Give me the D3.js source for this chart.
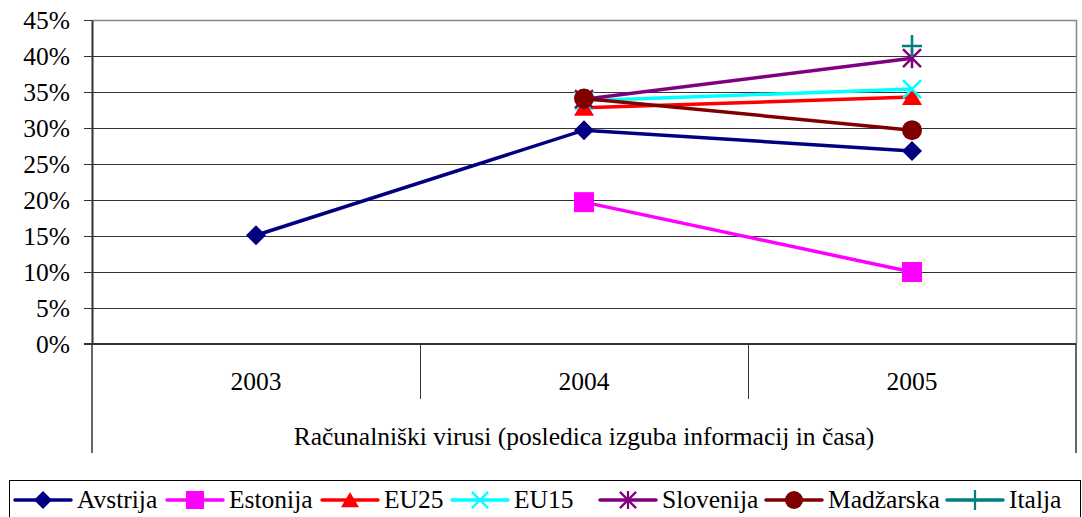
<html>
<head>
<meta charset="utf-8">
<style>
  body { margin: 0; background: #fff; }
  svg { display: block; }
  text { font-family: "Liberation Serif", "Times New Roman", serif; fill: #000; }
</style>
</head>
<body>
<script src="https://cdn.jsdelivr.net/npm/d3@7"></script>
<script>
// data
var years = ["2003", "2004", "2005"];
var yTicks = [0, 0.05, 0.10, 0.15, 0.20, 0.25, 0.30, 0.35, 0.40, 0.45];
var seriesNames = ["Avstrija", "Estonija", "EU25", "EU15", "Slovenija", "Madžarska", "Italja"];
var avstrija = [0.151, 0.297, 0.268];
var estonija = [null, 0.197, 0.100];
var eu25 = [null, 0.328, 0.343];
var eu15 = [null, 0.338, 0.354];
var slovenija = [null, 0.340, 0.397];
var madzarska = [null, 0.341, 0.297];
var italja = [null, null, 0.414];
var seriesColors = ["#000080", "#ff00ff", "#ff0000", "#00ffff", "#800080", "#800000", "#008080"];
var seriesMarkers = ["diamond", "square", "triangle", "x", "star", "circle", "plus"];
var axisTitle = "Računalniški virusi (posledica izguba informacij in časa)";

var allValues = [avstrija, estonija, eu25, eu15, slovenija, madzarska, italja];
var series = seriesNames.map(function(n, i) {
  return { name: n, color: seriesColors[i], marker: seriesMarkers[i],
    values: years.map(function(y, j) { return { year: y, v: allValues[i][j] }; }) };
});

var W = 1082, H = 517;
var plotL = 92, plotR = 1076, plotT = 20, plotB = 344;
var fontSize = "25.5px";

var svg = d3.select("body").append("svg").attr("width", W).attr("height", H);

var x = d3.scaleBand().domain(years).range([plotL, plotR]);
var y = d3.scaleLinear().domain([0, 0.45]).range([plotB, plotT]);

// gridlines
svg.append("g").selectAll("line").data(yTicks.slice(1, -1)).enter().append("line")
  .attr("x1", plotL).attr("x2", plotR)
  .attr("y1", function(d) { return Math.round(y(d)) + 0.5; })
  .attr("y2", function(d) { return Math.round(y(d)) + 0.5; })
  .attr("stroke", "#333").attr("stroke-width", 1);

// top and right border
svg.append("path")
  .attr("d", "M" + plotL + "," + (plotT + 0.5) + "H" + (plotR + 0.5) + "V" + plotB)
  .attr("fill", "none").attr("stroke", "#888").attr("stroke-width", 1.5);

// y axis
var yAxis = d3.axisLeft(y).tickValues(yTicks).tickFormat(d3.format(".0%"))
  .tickSizeInner(8).tickSizeOuter(0).tickPadding(14);
var gy = svg.append("g").attr("transform", "translate(" + plotL + ",0)").call(yAxis);
gy.select(".domain").attr("stroke", "#333").attr("stroke-width", 2);
gy.selectAll(".tick line").attr("stroke", "#333");
gy.selectAll("text").style("font-size", fontSize).style("font-family", "Liberation Serif, serif");

// category axis
svg.append("line").attr("x1", plotL - 8).attr("x2", plotR).attr("y1", plotB).attr("y2", plotB)
  .attr("stroke", "#333").attr("stroke-width", 2);
svg.append("line").attr("x1", plotL).attr("x2", plotL).attr("y1", plotB).attr("y2", 453)
  .attr("stroke", "#333").attr("stroke-width", 1.5);
svg.append("line").attr("x1", plotR).attr("x2", plotR).attr("y1", plotB).attr("y2", 453)
  .attr("stroke", "#333").attr("stroke-width", 1.5);
svg.append("g").selectAll("line").data(years.slice(1)).enter().append("line")
  .attr("x1", function(d) { return Math.round(x(d)) + 0.5; })
  .attr("x2", function(d) { return Math.round(x(d)) + 0.5; })
  .attr("y1", plotB).attr("y2", 399)
  .attr("stroke", "#333").attr("stroke-width", 1);
svg.append("g").selectAll("text").data(years).enter().append("text")
  .attr("x", function(d) { return x(d) + x.bandwidth() / 2; })
  .attr("y", 390).attr("text-anchor", "middle").style("font-size", fontSize)
  .text(function(d) { return d; });
svg.append("text").attr("x", (plotL + plotR) / 2).attr("y", 445)
  .attr("text-anchor", "middle").style("font-size", fontSize).text(axisTitle);

// markers
function drawMarker(g, type, color) {
  if (type === "diamond") g.append("path").attr("d", "M0,-10L10,0L0,10L-10,0Z").attr("fill", color);
  else if (type === "square") g.append("rect").attr("x", -10).attr("y", -10).attr("width", 20).attr("height", 20).attr("fill", color);
  else if (type === "triangle") g.append("path").attr("d", "M0,-9L10,8L-10,8Z").attr("fill", color);
  else if (type === "circle") g.append("circle").attr("r", 10).attr("fill", color);
  else {
    var p = "";
    if (type === "x" || type === "star") p += "M-9,-9L9,9M-9,9L9,-9";
    if (type === "star") p += "M0,-10L0,10";
    if (type === "plus") p += "M0,-11L0,11M-10,0L10,0";
    g.append("path").attr("d", p).attr("stroke", color).attr("stroke-width", 2.5).attr("fill", "none");
  }
}

var line = d3.line()
  .defined(function(d) { return d.v !== null; })
  .x(function(d) { return x(d.year) + x.bandwidth() / 2; })
  .y(function(d) { return y(d.v); });

series.forEach(function(s) {
  var g = svg.append("g");
  g.append("path").datum(s.values).attr("d", line)
    .attr("fill", "none").attr("stroke", s.color).attr("stroke-width", 3.5);
  s.values.filter(function(d) { return d.v !== null; }).forEach(function(d) {
    var m = g.append("g").attr("transform", "translate(" + (x(d.year) + x.bandwidth() / 2) + "," + y(d.v) + ")");
    drawMarker(m, s.marker, s.color);
  });
});

// legend
var legendX = [15, 167, 322, 452, 600, 766, 947];
svg.append("rect").attr("x", 9.5).attr("y", 480.5).attr("width", 1071).attr("height", 40)
  .attr("fill", "#fff").attr("stroke", "#000").attr("stroke-width", 1);
var lg = svg.append("g").selectAll("g").data(series).enter().append("g")
  .attr("transform", function(d, i) { return "translate(" + legendX[i] + ",500)"; });
lg.append("line").attr("x1", 0).attr("x2", 56).attr("y1", 0).attr("y2", 0)
  .attr("stroke", function(d) { return d.color; }).attr("stroke-width", 3.5).attr("stroke-linecap", "round");
lg.each(function(d) {
  var m = d3.select(this).append("g").attr("transform", "translate(28,0) scale(0.9)");
  drawMarker(m, d.marker, d.color);
});
lg.append("text").attr("x", 62).attr("y", 8).style("font-size", fontSize).text(function(d) { return d.name; });
</script>
</body>
</html>
